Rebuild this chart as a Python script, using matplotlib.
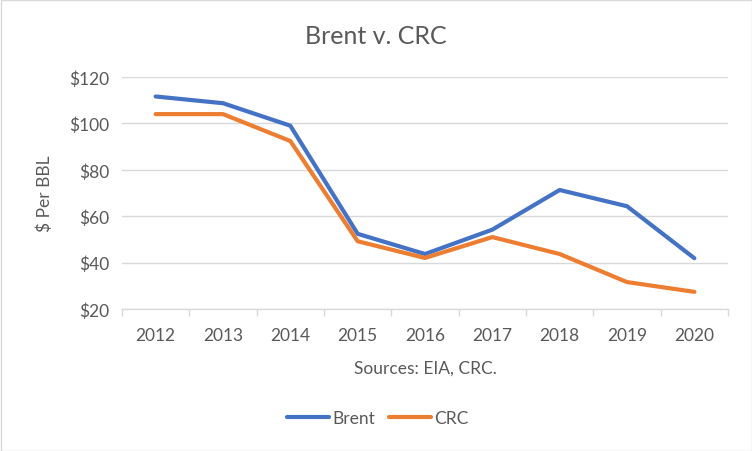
import matplotlib
matplotlib.use("Agg")
import matplotlib.pyplot as plt
from matplotlib.patches import Rectangle

years = ["2012", "2013", "2014", "2015", "2016", "2017", "2018", "2019", "2020"]
brent = [111.6, 108.7, 99.0, 52.4, 43.7, 54.2, 71.3, 64.3, 41.9]
crc = [104.0, 104.0, 92.4, 49.2, 42.0, 51.0, 43.7, 31.6, 27.4]
yticks = [20, 40, 60, 80, 100, 120]

plt.rcParams['font.family'] = ['Lato', 'DejaVu Sans']
txt = '#595959'
grid = '#d9d9d9'

fig = plt.figure(figsize=(7.52, 4.52), dpi=100)
fig.patches.append(Rectangle((0.5/752, 0.5/452), 1 - 1/752, 1 - 1/452, transform=fig.transFigure,
                             fill=False, edgecolor='#d9d9d9', linewidth=1))
ax = fig.add_axes([122/752, 1 - 310/452, (728 - 122)/752, (310 - 78)/452])

x = list(range(len(years)))
ax.plot(x, brent, color='#4472C4', lw=3.0, solid_capstyle='round', solid_joinstyle='round', label='Brent', zorder=3)
ax.plot(x, crc, color='#ED7D31', lw=3.0, solid_capstyle='round', solid_joinstyle='round', label='CRC', zorder=3)

ax.set_xlim(-0.5, len(years) - 0.5)
ax.set_ylim(20, 120)
ax.set_yticks(yticks)
ax.set_yticklabels([f"${v}" for v in yticks])
ax.set_xticks(x)
ax.set_xticklabels(years)
ax.set_xticks([i - 0.5 for i in range(len(years) + 1)], minor=True)
ax.tick_params(axis='x', which='major', length=0, pad=13, labelsize=12.5, labelcolor=txt)
ax.tick_params(axis='x', which='minor', length=5, color=grid, width=1)
ax.tick_params(axis='y', length=0, pad=9, labelsize=12.5, labelcolor=txt)
ax.grid(axis='y', color=grid, lw=1)
ax.set_axisbelow(True)
for s in ['top', 'right', 'left']:
    ax.spines[s].set_visible(False)
ax.spines['bottom'].set_color(grid)
ax.spines['bottom'].set_linewidth(1)

ax.set_ylabel('$ Per BBL', fontsize=12.5, color=txt, labelpad=12)
ax.set_xlabel('Sources: EIA, CRC.', fontsize=12.5, color=txt, labelpad=12)
fig.text(376/752, 1 - 37/452, 'Brent v. CRC', ha='center', va='center', fontsize=18, color=txt)

leg = fig.legend(loc='center', bbox_to_anchor=(378/752, 1 - 419/452), ncol=2, frameon=False,
                 fontsize=12.5, handlelength=2.4, columnspacing=0.8, handletextpad=0.2)
for t in leg.get_texts():
    t.set_color(txt)

fig.savefig('out.png', dpi=100)
